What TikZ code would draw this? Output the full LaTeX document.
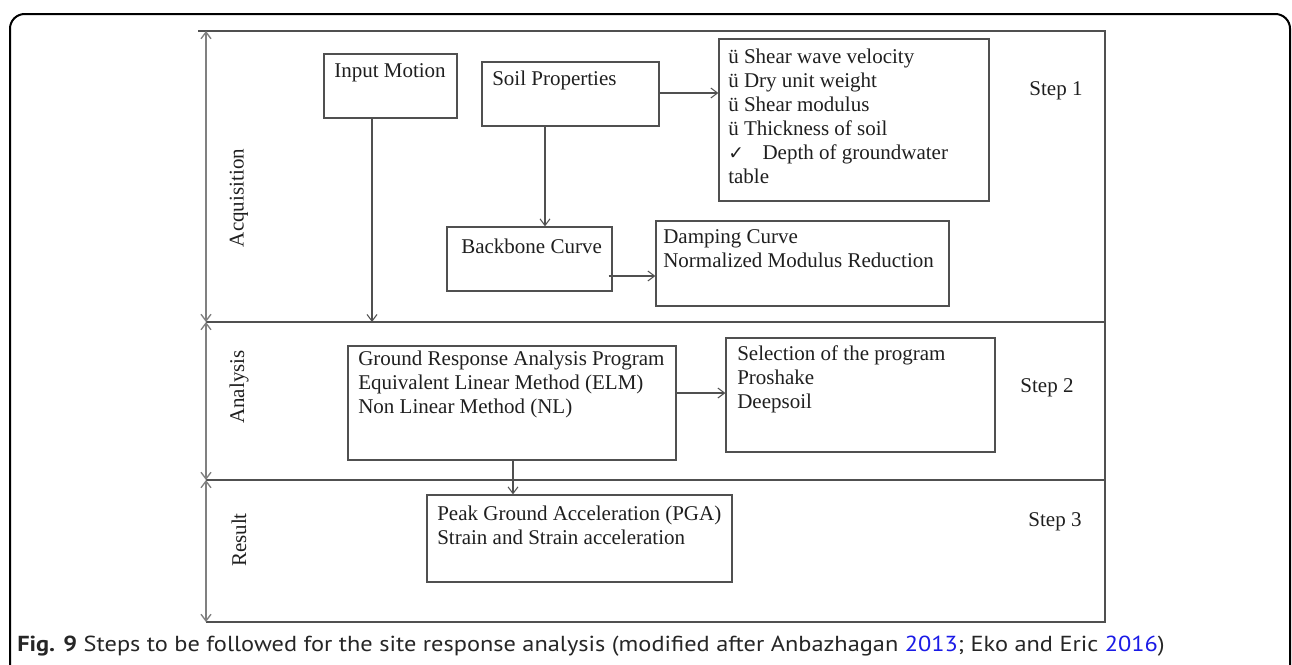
\documentclass[tikz,border=0pt]{standalone}
\usepackage{fontspec}
\setmainfont{Liberation Serif}
\setsansfont[FakeStretch=1.12]{PT Sans}
\newfontfamily\symfont{DejaVu Sans}
\usetikzlibrary{arrows.meta,fit,calc}
\definecolor{linegray}{HTML}{505050}
\definecolor{axisgray}{HTML}{808080}
\definecolor{citeblue}{HTML}{1A1AE6}
\begin{document}
\begin{tikzpicture}[x=0.75pt, y=-0.75pt,
  >={Straight Barb[length=5pt,width=7.5pt]},
  box/.style={draw=linegray, line width=0.9pt, inner sep=0pt},
  txt/.style={font=\fontsize{15.75pt}{18pt}\selectfont, text=black!88, inner sep=0pt, align=left, anchor=west},
  conn/.style={draw=linegray, line width=0.8pt, ->},
  band/.style={draw=linegray, line width=0.9pt},
  stage/.style={draw=axisgray, line width=1pt, <->},
]
\useasboundingbox (0,0) rectangle (1292,664);

% outer frame
\draw[black, line width=1.5pt, rounded corners=11pt] (10,690) -- (10,14) -- (1290,14) -- (1290,690);

% stage bands
\coordinate (tl) at (198,31);
\coordinate (tr) at (1105,31);
\coordinate (br) at (1105,622);
\coordinate (bl) at (206,622);
\draw[band] (tl) -- (tr) -- (br) -- (bl);
\draw[band] (206,322) -- (1105,322);
\draw[band] (206,480) -- (1105,480);

% stage extents
\coordinate (a0) at (206,31);
\coordinate (a1) at (206,322);
\coordinate (a2) at (206,480);
\coordinate (a3) at (206,622);
\draw[stage] (a0) -- (a1);
\draw[stage] (a1) -- (a2);
\draw[stage] (a2) -- (a3);

\node[txt, rotate=90, anchor=center] (lacq) at (239,198) {Acquisition};
\node[txt, rotate=90, anchor=center] (lana) at (239,387) {Analysis};
\node[txt, rotate=90, anchor=center] (lres) at (239,540) {Result};

% boxes
\node[box, fit={(324,54)(457,118)}] (im) {};
\node[box, fit={(482,62)(659,126)}] (sp) {};
\node[box, fit={(719,39)(989,201)}] (par) {};
\node[box, fit={(447,227)(612,291)}] (bb) {};
\node[box, fit={(656,221)(949,306)}] (dc) {};
\node[box, fit={(348,346)(676,460)}] (gr) {};
\node[box, fit={(726,338)(995,452)}] (sel) {};
\node[box, fit={(427,495)(732,582)}] (pga) {};

% box texts
\node[txt] (imt) at (334,73) {Input Motion};
\node[txt] (spt) at (492,80) {Soil Properties};
\node[txt] (part) at (728,116) {ü Shear wave velocity\\ü Dry unit weight\\ü Shear modulus\\ü Thickness of soil\\{\symfont\fontsize{14pt}{18pt}\selectfont ✓}\hspace{14pt}Depth of groundwater\\table};
\node[txt] (bbt) at (461,246) {Backbone Curve};
\node[txt] (dct) at (663,249) {Damping Curve\\Normalized Modulus Reduction};
\node[txt] (grt) at (358,384) {Ground Response Analysis Program\\Equivalent Linear Method (ELM)\\Non Linear Method (NL)};
\node[txt] (selt) at (737,379) {Selection of the program\\Proshake\\Deepsoil};
\node[txt] (pgat) at (437,525) {Peak Ground Acceleration (PGA)\\Strain and Strain acceleration};

% step labels
\node[txt, anchor=center] (s1) at (1056,91) {Step 1};
\node[txt, anchor=center] (s2) at (1047,388) {Step 2};
\node[txt, anchor=center] (s3) at (1055,522) {Step 3};

% connectors
\coordinate (imfoot) at (372,322);
\draw[conn] (im.south -| imfoot) -- (imfoot);
\draw[conn] (sp.south -| 545,0) -- (bb.north -| 545,0);
\draw[conn] (sp.east |- 0,93) -- (par.west |- 0,93);
\draw[conn] ($(bb.east |- 0,276)+(-4,0)$) -- (dc.west |- 0,276);
\draw[conn] (gr.east |- 0,393) -- (sel.west |- 0,393);
\draw[conn] (gr.south -| 513,0) -- (pga.north -| 513,0);

% caption
\node[anchor=base west, inner sep=0pt, font=\sffamily\fontsize{16.3pt}{18pt}\selectfont, text=black!85] (cap) at (17,651)
  {\textbf{Fig. 9} Steps to be followed for the site response analysis (modified after Anbazhagan {\color{citeblue}2013}; Eko and Eric {\color{citeblue}2016})};
\end{tikzpicture}
\end{document}
